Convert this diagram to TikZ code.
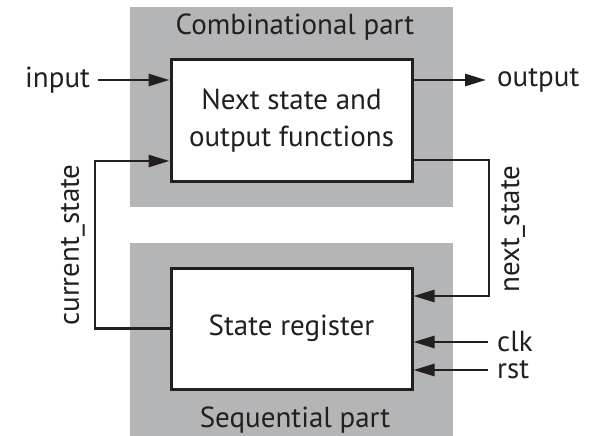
\documentclass[tikz,border=0pt]{standalone}
\usepackage{fontspec}
\setmainfont{PT Sans}
\usetikzlibrary{arrows.meta}
\definecolor{ink}{HTML}{231F20}
\definecolor{partgray}{HTML}{B4B5B7}
\begin{document}
\begin{tikzpicture}[x=1pt,y=-1pt,
  font=\fontsize{29}{37}\selectfont,
  every node/.style={text=ink},
  blockbox/.style={draw=ink, line width=3pt, fill=white, minimum width=241pt,
    minimum height=121pt, align=center, inner sep=0pt},
  sig/.style={draw=ink, line width=2.8pt, -{Triangle[length=21pt,width=12pt]}},
  wire/.style={draw=ink, line width=2.8pt}]
  \useasboundingbox (0,0) rectangle (598,436);
  \fill[white] (0,0) rectangle (598,436);

  % shaded regions for the two halves of the machine
  \fill[partgray] (130,7) rectangle (453,207);
  \fill[partgray] (130,243) rectangle (453,436);
  \node (combl) at (295,27) {Combinational part};
  \node (seql) at (295,420) {Sequential part};

  % blocks
  \node[blockbox] (nsf) at (291.5,120.5) {Next state and\\output functions};
  \node[blockbox] (sreg) at (291.5,328.5) {State register};

  % external signals
  \node[anchor=west, inner sep=0pt] (in) at (25,80) {input};
  \node[anchor=west, inner sep=0pt] (out) at (497,80) {output};
  \node[anchor=west, inner sep=0pt] (clk) at (497,342) {clk};
  \node[anchor=west, inner sep=0pt] (rst) at (497,370) {rst};

  \draw[sig] ([xshift=8pt]in.east) -- (nsf.west |- in.east);
  \draw[sig] (nsf.east |- out.west) -- ([xshift=-11pt]out.west);
  \draw[sig] ([xshift=-9pt]clk.west) -- (sreg.east |- clk.west);
  \draw[sig] ([xshift=-9pt]rst.west) -- (sreg.east |- rst.west);

  % feedback loop
  \coordinate (cs) at (95,161);
  \coordinate (ns) at (489,160);
  \coordinate (nsb) at (489,296);
  \draw[sig] (sreg.west) -| (cs) -- (nsf.west |- cs);
  \draw[sig] (nsf.east |- ns) -- (ns) -- (nsb) -- (sreg.east |- nsb);

  \node[rotate=90, anchor=south, inner sep=0pt] (csl) at (85,245) {current\_state};
  \node[rotate=90, anchor=north, inner sep=0pt] (nsl) at (501,229) {next\_state};
\end{tikzpicture}
\end{document}
